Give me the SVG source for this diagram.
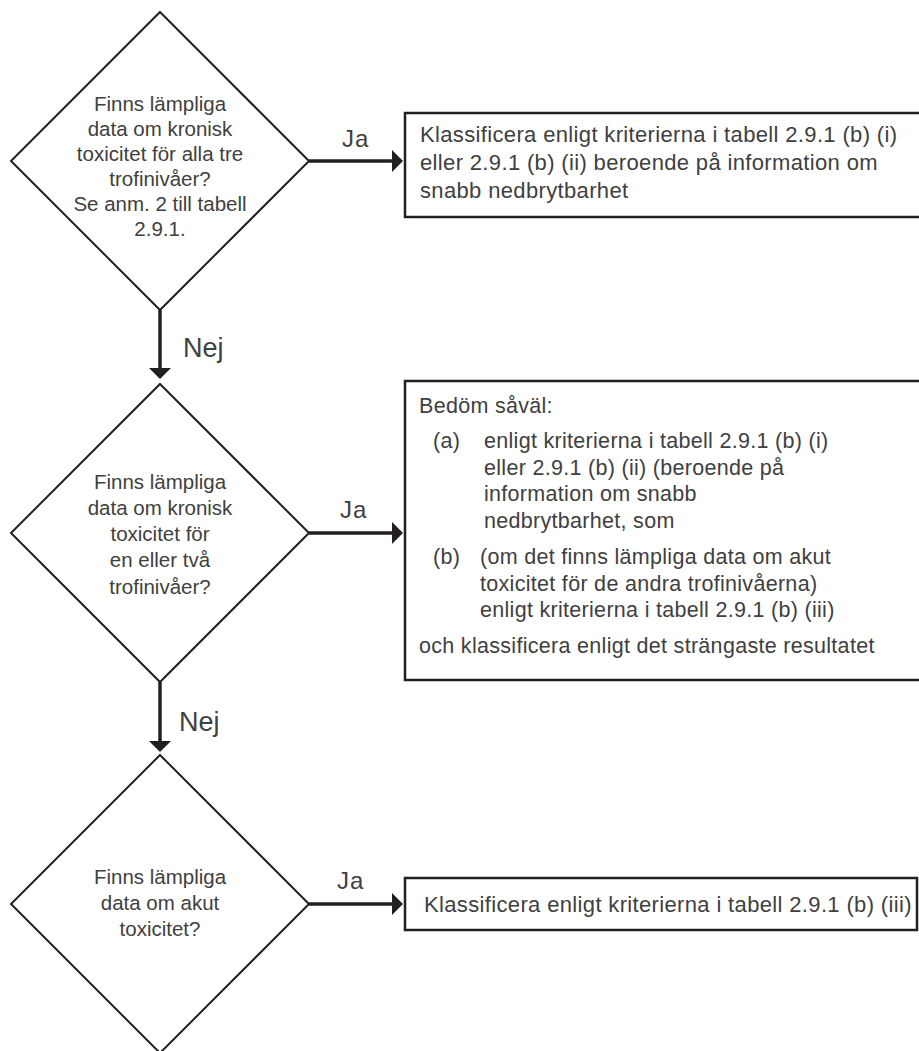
<svg xmlns="http://www.w3.org/2000/svg" width="919" height="1051" viewBox="0 0 919 1051">
<style>
.shape{fill:#fff;stroke:#231f20;stroke-width:2}
.box{fill:#fff;stroke:#231f20;stroke-width:2.5}
.conn{stroke:#231f20;stroke-width:3.5;fill:none}
text{font-family:"Liberation Sans",Arial,sans-serif;fill:#404040}
.dt{font-size:20.5px;text-anchor:middle}
.bt{font-size:22px;letter-spacing:0.35px}
.bt2{font-size:21.5px;letter-spacing:0.3px}
.ja{font-size:24px;letter-spacing:1px}
.nej{font-size:27px}
</style>
<defs>
<marker id="ah" viewBox="0 0 11 22" refX="0" refY="11" markerWidth="11" markerHeight="22" markerUnits="userSpaceOnUse" orient="auto">
<path d="M0,0 L11,11 L0,22 z" fill="#231f20"/>
</marker>
</defs>
<g id="connectors">
<line class="conn" x1="309" y1="161" x2="392" y2="161" marker-end="url(#ah)"/>
<line class="conn" x1="160" y1="310" x2="160" y2="368" marker-end="url(#ah)"/>
<line class="conn" x1="309" y1="533" x2="392" y2="533" marker-end="url(#ah)"/>
<line class="conn" x1="160" y1="682" x2="160" y2="741" marker-end="url(#ah)"/>
<line class="conn" x1="309" y1="904" x2="392" y2="904" marker-end="url(#ah)"/>
<text class="ja" x="342" y="147">Ja</text>
<text class="nej" x="183" y="357">Nej</text>
<text class="ja" x="340" y="518">Ja</text>
<text class="nej" x="179" y="731">Nej</text>
<text class="ja" x="337" y="889">Ja</text>
</g>
<g id="d1">
<polygon class="shape" points="160,12 309,161 160,310 11,161"/>
<text class="dt" x="160" y="111">Finns lämpliga</text>
<text class="dt" x="160" y="136">data om kronisk</text>
<text class="dt" x="160" y="161">toxicitet för alla tre</text>
<text class="dt" x="160" y="186">trofinivåer?</text>
<text class="dt" x="160" y="211">Se anm. 2 till tabell</text>
<text class="dt" x="160" y="236">2.9.1.</text>
</g>
<g id="b1">
<rect class="box" x="405" y="113" width="530" height="104"/>
<text class="bt" x="420" y="142">Klassificera enligt kriterierna i tabell 2.9.1 (b) (i)</text>
<text class="bt" x="420" y="170">eller 2.9.1 (b) (ii) beroende på information om</text>
<text class="bt" x="420" y="198">snabb nedbrytbarhet</text>
</g>
<g id="d2">
<polygon class="shape" points="160,384 309,533 160,682 11,533"/>
<text class="dt" x="160" y="489">Finns lämpliga</text>
<text class="dt" x="160" y="515">data om kronisk</text>
<text class="dt" x="160" y="541">toxicitet för</text>
<text class="dt" x="160" y="567">en eller två</text>
<text class="dt" x="160" y="594">trofinivåer?</text>
</g>
<g id="b2">
<rect class="box" x="405" y="381" width="530" height="299"/>
<text class="bt2" x="419" y="413">Bedöm såväl:</text>
<text class="bt2" x="433" y="448">(a)</text>
<text class="bt2" x="484" y="448">enligt kriterierna i tabell 2.9.1 (b) (i)</text>
<text class="bt2" x="484" y="475">eller 2.9.1 (b) (ii) (beroende på</text>
<text class="bt2" x="484" y="501">information om snabb</text>
<text class="bt2" x="484" y="528">nedbrytbarhet, som</text>
<text class="bt2" x="433" y="564">(b)</text>
<text class="bt2" x="480" y="564">(om det finns lämpliga data om akut</text>
<text class="bt2" x="480" y="591">toxicitet för de andra trofinivåerna)</text>
<text class="bt2" x="480" y="617">enligt kriterierna i tabell 2.9.1 (b) (iii)</text>
<text class="bt2" x="419" y="653">och klassificera enligt det strängaste resultatet</text>
</g>
<g id="d3">
<polygon class="shape" points="160,755 309,904 160,1053 11,904"/>
<text class="dt" x="160" y="884">Finns lämpliga</text>
<text class="dt" x="160" y="910">data om akut</text>
<text class="dt" x="160" y="936">toxicitet?</text>
</g>
<g id="b3">
<rect class="box" x="405" y="878" width="512" height="52"/>
<text class="bt" x="424" y="912">Klassificera enligt kriterierna i tabell 2.9.1 (b) (iii)</text>
</g>
</svg>
